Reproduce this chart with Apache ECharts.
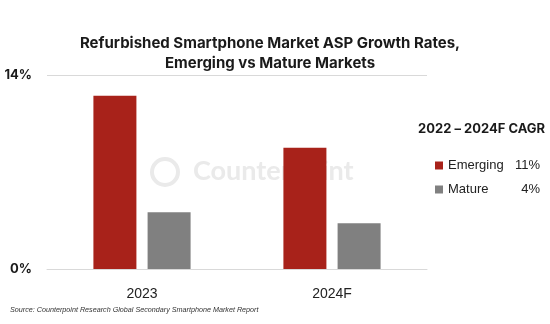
<!DOCTYPE html>
<html><head><meta charset="utf-8">
<script src="https://cdn.jsdelivr.net/npm/echarts@6/dist/echarts.min.js"></script>
<style>html,body{margin:0;padding:0;background:#fff}#c{width:550px;height:324px}</style>
</head><body><div id="c"></div>
<script>
const categories = ['2023', '2024F'];
const seriesNames = ['Emerging', 'Mature'];
const emerging = [12.5, 8.75];
const mature = [4.1, 3.3];
const cagr = ['11%', '4%'];
const yTicks = [0, 14];

const chart = echarts.init(document.getElementById('c'), null, {renderer: 'canvas'});
const cagrMap = {};
seriesNames.forEach((n, i) => cagrMap[n] = cagr[i]);

chart.setOption({
  animation: false,
  backgroundColor: '#ffffff',
  title: {
    text: 'Refurbished Smartphone Market ASP Growth Rates,\nEmerging vs Mature Markets',
    left: 265, top: 28, textAlign: 'center',
    textStyle: {fontFamily: 'Inter', fontWeight: 'bold', fontSize: 15, lineHeight: 20, color: '#1a1a1a'}
  },
  graphic: [
    {type: 'text', left: 418, top: 123, style: {text: '2022 – 2024F CAGR', fontFamily: 'Inter', fontWeight: 'bold', fontSize: 13, fill: '#1a1a1a'}},
    {type: 'text', left: 10, top: 306, style: {text: 'Source: Counterpoint Research Global Secondary Smartphone Market Report', fontFamily: 'Liberation Sans', fontStyle: 'italic', fontSize: 7.2, fill: '#333'}},
    {type: 'circle', shape: {cx: 165, cy: 172, r: 13}, style: {fill: 'none', stroke: '#eaeaea', lineWidth: 4}, z: -1},
    {type: 'text', left: 193, top: 158, z: -1, style: {text: 'Counterpoint', fontFamily: 'Lato', fontWeight: 'bold', fontSize: 27, fill: '#eaeaea'}}
  ],
  legend: {
    orient: 'vertical', left: 435, top: 159, itemWidth: 8, itemHeight: 8, itemGap: 11,
    icon: 'rect', padding: 0,
    data: seriesNames,
    formatter: n => '{n|' + n + '}{v|' + cagrMap[n] + '}',
    textStyle: {
      fontFamily: 'Liberation Sans', fontSize: 13, color: '#222',
      rich: {n: {width: 62, fontSize: 13, fontFamily: 'Liberation Sans', color: '#222'}, v: {width: 30, align: 'right', fontSize: 13, fontFamily: 'Liberation Sans', color: '#222'}}
    }
  },
  grid: {left: 47, width: 380, top: 75, height: 194},
  xAxis: {
    type: 'category', data: categories,
    axisLine: {lineStyle: {color: '#d9d9d9'}},
    axisTick: {show: false},
    axisLabel: {margin: 18, fontFamily: 'Liberation Sans', fontSize: 14, color: '#222'}
  },
  yAxis: {
    type: 'value', min: yTicks[0], max: yTicks[1], interval: 14,
    axisLine: {show: false}, axisTick: {show: false},
    splitLine: {lineStyle: {color: '#d9d9d9'}},
    axisLabel: {margin: 15, formatter: '{value}%', fontFamily: 'Inter', fontWeight: 'bold', fontSize: 13, color: '#1a1a1a'}
  },
  series: [
    {name: seriesNames[0], type: 'bar', data: emerging, barWidth: 43, barGap: '26%', itemStyle: {color: '#a8221a'}},
    {name: seriesNames[1], type: 'bar', data: mature, barWidth: 43, itemStyle: {color: '#808080'}}
  ]
});
</script></body></html>
